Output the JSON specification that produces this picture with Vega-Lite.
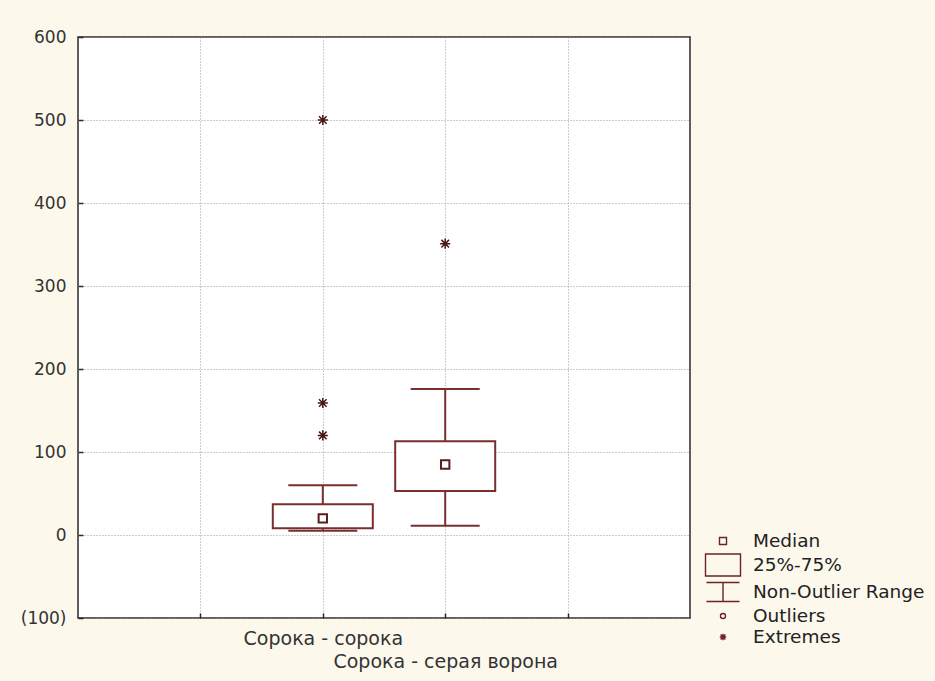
{
  "$schema": "https://vega.github.io/schema/vega-lite/v6.json",
  "width": 612,
  "height": 581,
  "autosize": {"type": "none"},
  "padding": {"left": 78, "top": 37, "right": 245, "bottom": 63},
  "background": "#fcf8ec",
  "config": {
    "view": {"fill": "#ffffff", "stroke": "#2a2a2a", "strokeWidth": 1.5},
    "font": "DejaVu Sans",
    "axis": {
      "domain": false,
      "ticks": true,
      "tickSize": -5,
      "tickColor": "#2a2a2a",
      "tickWidth": 1.5,
      "grid": true,
      "gridColor": "#9a9a9a",
      "gridDash": [1, 2],
      "gridWidth": 1,
      "labelFont": "DejaVu Sans",
      "labelFontSize": 17,
      "labelColor": "#333333",
      "title": null
    }
  },
  "datasets": {
    "boxes": [
      {"group": "Сорока - сорока", "min": 5, "q1": 8, "median": 20, "q3": 37, "max": 60},
      {"group": "Сорока - серая ворона", "min": 11, "q1": 53, "median": 85, "q3": 113, "max": 176}
    ],
    "extremes": [
      {"group": "Сорока - сорока", "value": 500, "type": "Extremes"},
      {"group": "Сорока - сорока", "value": 159, "type": "Extremes"},
      {"group": "Сорока - сорока", "value": 120, "type": "Extremes"},
      {"group": "Сорока - серая ворона", "value": 351, "type": "Extremes"}
    ]
  },
  "encoding": {
    "x": {
      "field": "group",
      "type": "nominal",
      "scale": {"type": "point", "domain": ["_a", "Сорока - сорока", "Сорока - серая ворона", "_b"], "padding": 1},
      "axis": {
        "labelAngle": 0,
        "labelPadding": 16,
        "labelFontSize": 19,
        "labelLineHeight": 23,
        "labelLimit": 0,
        "labelOverlap": false,
        "labelFlush": false,
        "labelBound": false,
        "labelBaseline": "top",
        "labelExpr": "datum.value == 'Сорока - сорока' ? datum.value : (datum.value == 'Сорока - серая ворона' ? ['', datum.value] : '')"
      }
    }
  },
  "layer": [
    {
      "data": {"name": "boxes"},
      "mark": {"type": "rule", "color": "#7a2e2e", "strokeWidth": 2, "opacity": 1},
      "encoding": {
        "y": {"field": "min", "type": "quantitative", "scale": {"domain": [-100, 600], "nice": false, "zero": false},
          "axis": {"values": [-100, 0, 100, 200, 300, 400, 500, 600], "labelPadding": 17,
            "labelExpr": "datum.value < 0 ? '(' + abs(datum.value) + ')' : datum.label"}},
        "y2": {"field": "max"}
      }
    },
    {
      "data": {"name": "boxes"},
      "mark": {"type": "bar", "width": 100, "fill": "#ffffff", "stroke": "#7a2e2e", "strokeWidth": 2, "opacity": 1},
      "encoding": {
        "y": {"field": "q1", "type": "quantitative"},
        "y2": {"field": "q3"}
      }
    },
    {
      "data": {"name": "boxes"},
      "mark": {"type": "tick", "orient": "horizontal", "size": 69, "thickness": 2, "color": "#7a2e2e", "opacity": 1},
      "encoding": {"y": {"field": "max", "type": "quantitative"}}
    },
    {
      "data": {"name": "boxes"},
      "mark": {"type": "tick", "orient": "horizontal", "size": 69, "thickness": 2, "color": "#7a2e2e", "opacity": 1},
      "encoding": {"y": {"field": "min", "type": "quantitative"}}
    },
    {
      "data": {"name": "boxes"},
      "mark": {"type": "point", "shape": "square", "size": 70, "filled": false, "color": "#5a1d1d", "strokeWidth": 2, "opacity": 1},
      "encoding": {"y": {"field": "median", "type": "quantitative"}}
    },
    {
      "data": {"name": "extremes"},
      "mark": {"type": "point", "size": 1000, "filled": false, "color": "#4a1616", "strokeWidth": 1.5, "opacity": 1},
      "encoding": {
        "y": {"field": "value", "type": "quantitative"},
        "shape": {
          "field": "type",
          "type": "nominal",
          "scale": {
            "domain": ["Median", "25%-75%", "Non-Outlier Range", "Outliers", "Extremes"],
            "range": [
              "M-0.35,-0.35H0.35V0.35H-0.35Z",
              "M-1.75,-1.1H1.75V1.1H-1.75Z",
              "M-1.65,-0.95H1.65M0,-0.95V0.95M-1.65,0.95H1.65",
              "M-0.25,0A0.25,0.25,0,1,0,0.25,0A0.25,0.25,0,1,0,-0.25,0Z",
              "M-0.32,0H0.32M0,-0.32V0.32M-0.24,-0.24L0.24,0.24M-0.24,0.24L0.24,-0.24"
            ]
          },
          "legend": {
            "title": null,
            "orient": "none",
            "legendX": 634,
            "legendY": 493,
            "padding": 0,
            "symbolSize": 400,
            "symbolStrokeColor": "#6b2323",
            "symbolFillColor": "transparent",
            "symbolStrokeWidth": 1.4,
            "rowPadding": 0,
            "labelOffset": 19,
            "labelFont": "DejaVu Sans",
            "labelFontSize": 18.5,
            "labelColor": "#222222",
            "labelLimit": 300
          }
        }
      }
    }
  ]
}
